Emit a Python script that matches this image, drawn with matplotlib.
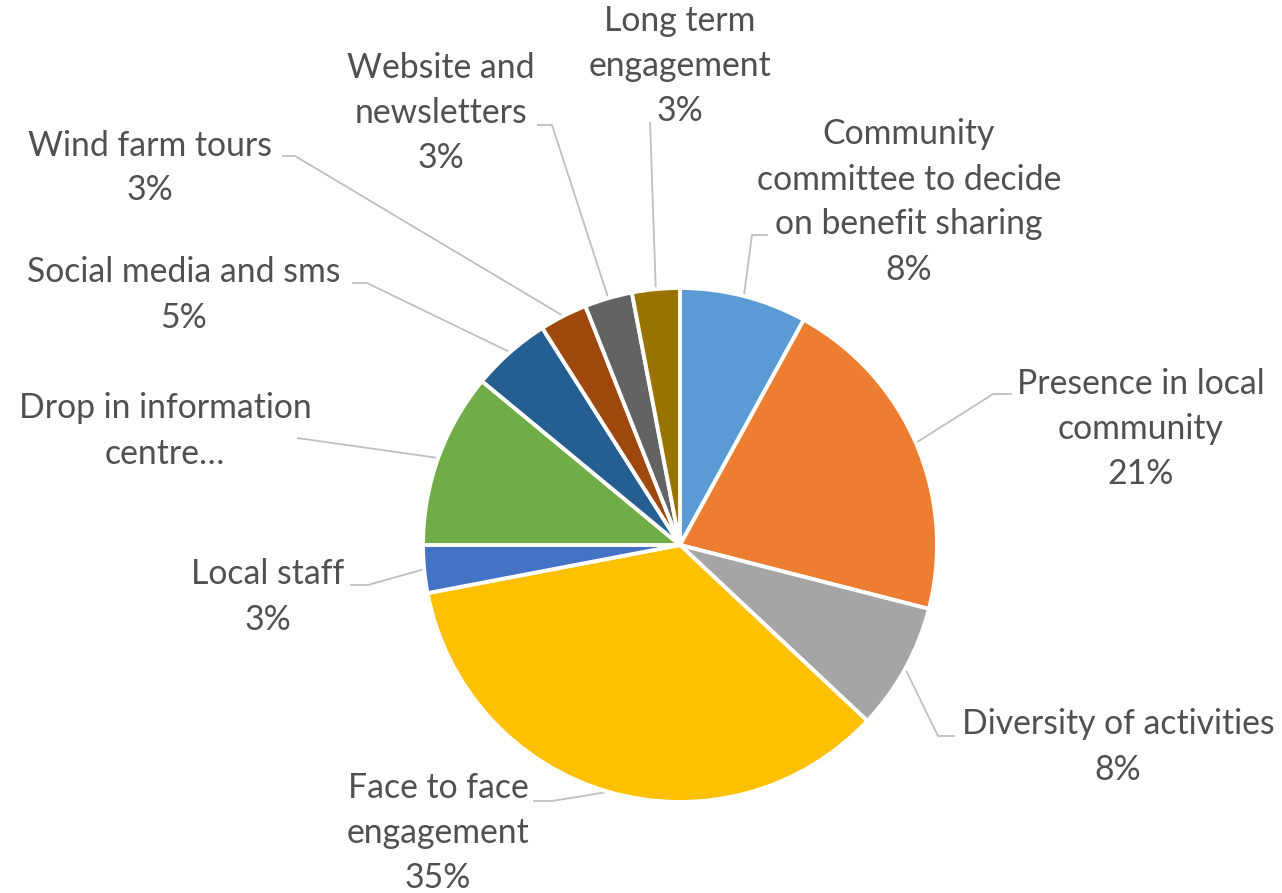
import matplotlib
matplotlib.use("Agg")
import matplotlib.pyplot as plt
import numpy as np

plt.rcParams['font.family'] = ['Lato', 'DejaVu Sans']

########################################## data
labels = ["Community\ncommittee to decide\non benefit sharing",
          "Presence in local\ncommunity",
          "Diversity of activities",
          "Face to face\nengagement",
          "Local staff",
          "Drop in information\ncentre\u2026",
          "Social media and sms",
          "Wind farm tours",
          "Website and\nnewsletters",
          "Long term\nengagement"]
values = [8, 21, 8, 35, 3, 11, 5, 3, 3, 3]
show_pct = [True, True, True, True, True, False, True, True, True, True]
colors = ["#5B9BD5", "#ED7D31", "#A5A5A5", "#FFC000", "#4472C4",
          "#70AD47", "#255E91", "#9E480E", "#636363", "#997300"]

########################################## layout (image pixels, y down)
W, H = 1282, 893
cx, cy, R = 680, 545, 257
# label block centres
lab_pos = [(909, 202), (1141, 429), (1118, 747), (438, 833), (268, 597),
           (165, 431), (184, 295), (150, 168), (441, 113), (680, 66)]
# leader line start points (label side), elbow
lead_pts = [[(768, 235), (752, 235)],
            [(1012, 394), (993, 394)],
            [(955, 736), (938, 736)],
            [(533, 801), (552, 801)],
            [(350, 585), (368, 585)],
            [(297, 438)],
            [(352, 283), (367, 283)],
            [(282, 156), (295, 156)],
            [(537, 125), (552, 125)],
            [(650, 122)]]

txt_col = "#505050"
line_col = "#BFBFBF"

fig = plt.figure(figsize=(W / 100, H / 100), dpi=100)
ax = fig.add_axes([0, 0, 1, 1])

# y axis inverted -> start at -90 and go "counterclock" to draw clockwise from 12 o'clock
ax.pie(values, colors=colors, startangle=-90, counterclock=True,
       center=(cx, cy), radius=R,
       wedgeprops=dict(edgecolor="white", linewidth=2.8))

ax.set_xlim(0, W)
ax.set_ylim(H, 0)
ax.set_aspect("equal")
ax.axis("off")

total = float(sum(values))
cum = np.cumsum(values) - np.array(values) / 2.0
for i in range(len(values)):
    theta = np.deg2rad(-90 + 360 * cum[i] / total)
    ex = cx + R * np.cos(theta)
    ey = cy + R * np.sin(theta)
    pts = lead_pts[i] + [(ex, ey)]
    ax.plot([p[0] for p in pts], [p[1] for p in pts], color=line_col, lw=1.3,
            solid_capstyle="butt", zorder=0)

    txt = labels[i]
    if show_pct[i]:
        txt = txt + "\n{:.0f}%".format(100 * values[i] / total)
    ax.text(lab_pos[i][0], lab_pos[i][1], txt, ha="center", va="center",
            multialignment="center", fontsize=24.3, color=txt_col,
            linespacing=1.5)

fig.savefig("out.png", dpi=100)
